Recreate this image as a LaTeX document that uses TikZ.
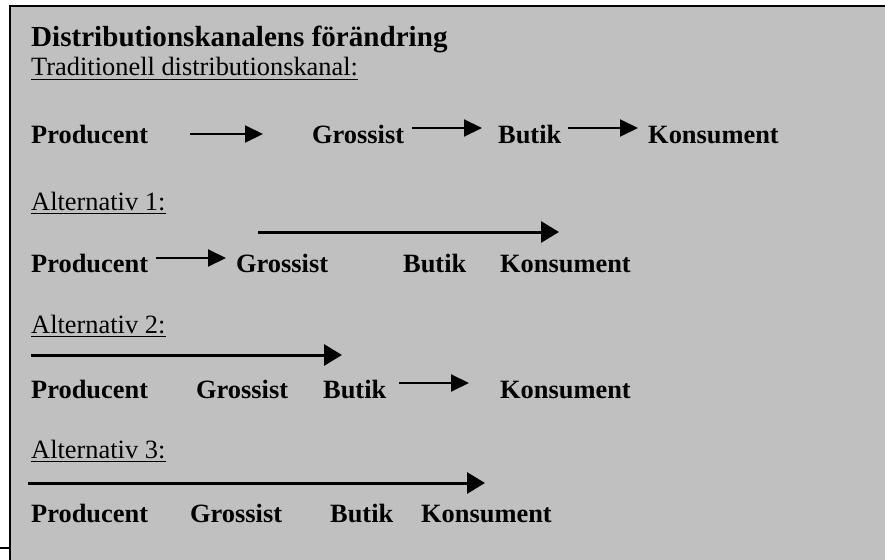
\documentclass[tikz,border=0pt]{standalone}
\usepackage{fontspec}
\setmainfont{Liberation Serif}
\usetikzlibrary{arrows.meta}
\definecolor{panelgray}{HTML}{C0C0C0}

\begin{document}
\begin{tikzpicture}[x=1pt,y=-1pt,
    word/.style={anchor=base west,inner sep=0pt,font=\fontsize{26.4}{30}\selectfont\bfseries},
    plaintext/.style={anchor=base west,inner sep=0pt,font=\fontsize{26.4}{30}\selectfont},
    titletext/.style={anchor=base west,inner sep=0pt,font=\fontsize{29.1}{33}\selectfont\bfseries},
    shortarr/.style={line width=2pt,-{Triangle[length=18pt,width=17pt]}},
    longarr/.style={line width=3pt,-{Triangle[length=18pt,width=21pt]}},
    uline/.style={line width=1.5pt}]
    \useasboundingbox (0,0) rectangle (885,559);
    \clip (0,0) rectangle (885,559);

    % the gray panel and its frame
    \draw[fill=panelgray,line width=2pt] (10,6.5) rectangle (1000,700);
    \draw[line width=2pt] (0,548) -- (10,548);

    \node[titletext] (title) at (31,47) {Distributionskanalens förändring};
    \node[plaintext] (trad) at (31,76) {Traditionell distributionskanal:};
    \draw[uline] ([yshift=-3.5pt]trad.base west) -- ([yshift=-3.5pt]trad.base east);

    \foreach \n/\y in {1/210, 2/333, 3/458} {
      \node[plaintext] (alt\n) at (31,\y) {Alternativ \n:};
      \draw[uline] ([yshift=-3.5pt]alt\n.base west) -- ([yshift=-3.5pt]alt\n.base east);
    }

    % the four rows of actors
    \foreach \r/\y/\g/\b/\k in {A/143/312/498/648, B/272/236/403/500, C/398/196/323/500, D/522/190/330/421} {
      \node[word] (prod\r) at (31,\y) {Producent};
      \node[word] (gross\r) at (\g,\y) {Grossist};
      \node[word] (butik\r) at (\b,\y) {Butik};
      \node[word] (kons\r) at (\k,\y) {Konsument};
    }

    % arrows
    \foreach \n/\xa/\xb/\y/\s in {A1/190/263/134/shortarr, A2/412/482/128/shortarr, A3/568/638/128/shortarr,
        B1/156/226/258/shortarr, B2/258/559/232/longarr,
        C1/31/342/355/longarr, C2/399/469/383/shortarr,
        D1/28/485/483/longarr} {
      \coordinate (from\n) at (\xa,\y);
      \coordinate (to\n) at (\xb,\y);
      \draw[\s] (from\n) -- (to\n);
    }
\end{tikzpicture}
\end{document}
